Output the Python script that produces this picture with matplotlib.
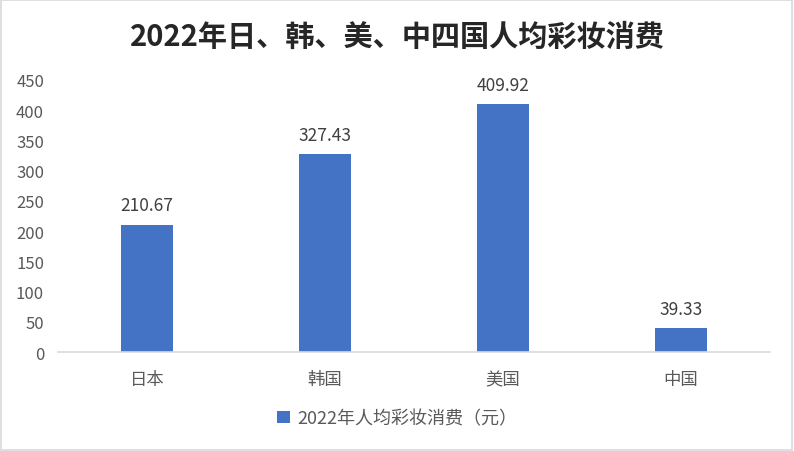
import matplotlib
matplotlib.use("Agg")
import matplotlib.pyplot as plt
from matplotlib.patches import Rectangle

plt.rcParams['font.family'] = ['Noto Sans CJK SC', 'DejaVu Sans']

countries = ["日本", "韩国", "美国", "中国"]
spend = [210.67, 327.43, 409.92, 39.33]
series_name = "2022年人均彩妆消费（元）"
title = "2022年日、韩、美、中四国人均彩妆消费"

bar_color = "#4472C4"
txt_color = "#595959"

fig = plt.figure(figsize=(7.94, 4.52), dpi=100)
ax = fig.add_axes([0.073, 0.219, 0.897, 0.602])

x = list(range(len(countries)))
bars = ax.bar(x, spend, width=0.29, color=bar_color, label=series_name)
for xi, v in zip(x, spend):
    ax.text(xi, v + 17, f"{v:.2f}", ha="center", va="bottom", fontsize=12.5, color="#404040")

ax.set_xlim(-0.5, 3.5)
ax.set_ylim(0, 450)
ax.set_yticks(range(0, 451, 50))
ax.set_xticks(x)
ax.set_xticklabels(countries)
ax.tick_params(axis="y", length=0, labelsize=12, labelcolor=txt_color, pad=10)
ax.tick_params(axis="x", length=0, labelsize=12.5, labelcolor=txt_color, pad=13)
for s in ["top", "right", "left"]:
    ax.spines[s].set_visible(False)
ax.spines["bottom"].set_color("#D9D9D9")
ax.spines["bottom"].set_linewidth(1.2)

fig.text(0.5, 0.918, title, ha="center", va="center", fontsize=21, fontweight="bold", color="#262626")

fig.legend(handles=[bars], labels=[series_name], loc="center", bbox_to_anchor=(0.5, 0.072),
           frameon=False, fontsize=13, handlelength=0.7, handleheight=0.7, handletextpad=0.4,
           labelcolor=txt_color)

fig.patches.append(Rectangle((0.001, 0.002), 0.997, 0.995, transform=fig.transFigure,
                             fill=False, edgecolor="#D9D9D9", linewidth=1.2))

fig.savefig("out.png", dpi=100)
